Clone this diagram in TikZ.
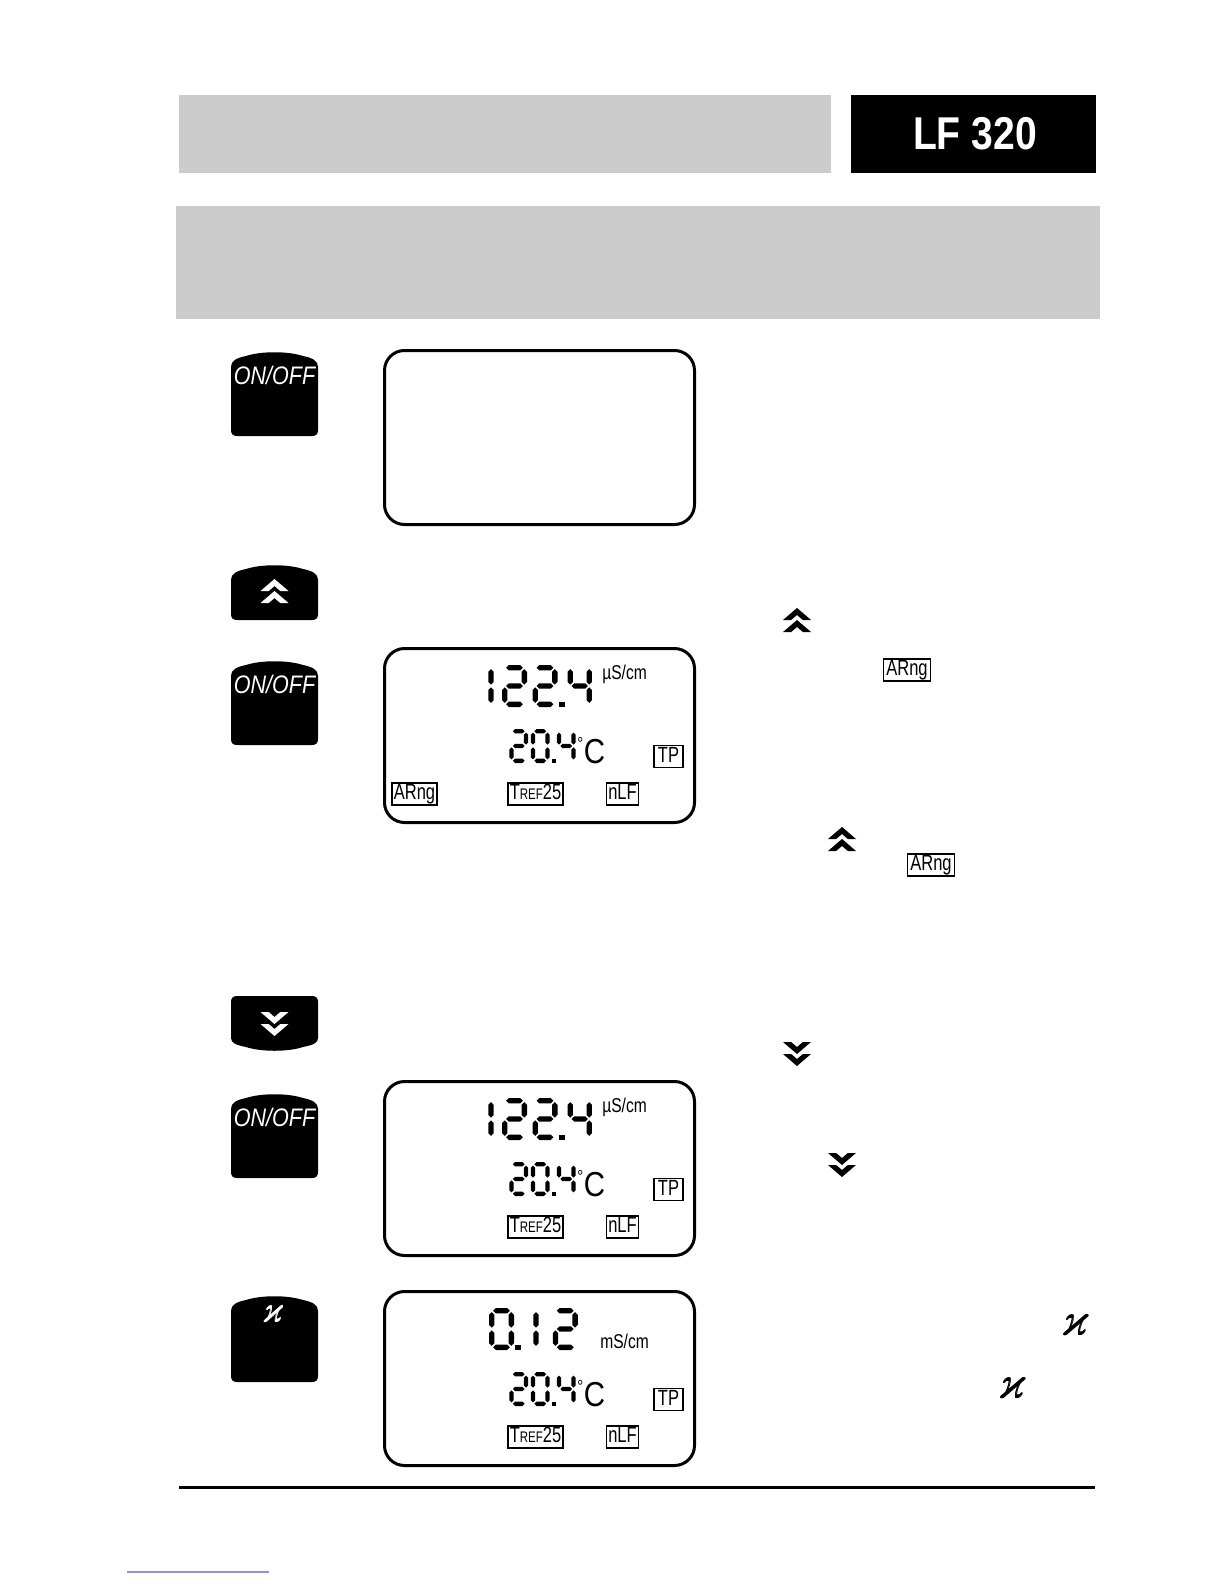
\documentclass[tikz,border=0pt]{standalone}
\usepackage{fontspec}
\usepackage{amssymb}
\usepackage{graphicx}
\newfontfamily\hdfont[FakeStretch=0.85]{Liberation Sans}
\newfontfamily\btnfont[FakeStretch=0.85]{Liberation Sans}
\newfontfamily\lcdfont[FakeStretch=0.75]{Liberation Sans}
\newfontfamily\unitfont[FakeStretch=0.78]{Liberation Sans}
\newfontfamily\degfont[FakeStretch=0.85]{Liberation Sans}
\newcommand\fsz[1]{\fontsize{#1}{#1}\selectfont}
\definecolor{hdgrey}{HTML}{CCCCCC}
\definecolor{linkblue}{HTML}{8C8CFF}
\tikzset{
  lcdframe/.style={draw, line width=2.25pt, rounded corners=15pt, minimum width=232.5pt, minimum height=130.5pt, anchor=north west, inner sep=0pt},
  segfill/.style={fill=black},
  lbl/.style={draw, line width=1.1pt, font=\lcdfont\fsz{16.5pt}, inner xsep=1.2pt, inner ysep=0.6pt, text height=11.9pt, text depth=3.2pt},
  unit/.style={font=\unitfont\fsz{15pt}, inner sep=0pt, anchor=base west},
  degc/.style={font=\degfont\fsz{26pt}, inner sep=0pt, anchor=base west},
  btnlabel/.style={text=white, font=\btnfont\itshape\fsz{19pt}, inner sep=0pt},
  keyfill/.style={fill=black},
}
% hexagonal LCD segments (uses \sh = half thickness)
\newcommand\hseg[3]{\fill[segfill] (#1,#3) -- (#1+\sh,#3-\sh) -- (#2-\sh,#3-\sh) -- (#2,#3) -- (#2-\sh,#3+\sh) -- (#1+\sh,#3+\sh) -- cycle;}
\newcommand\vseg[3]{\fill[segfill] (#3,#1) -- (#3+\sh,#1+\sh) -- (#3+\sh,#2-\sh) -- (#3,#2) -- (#3-\sh,#2-\sh) -- (#3-\sh,#1+\sh) -- cycle;}
% seven-segment digit: x, y (top centreline), w, h, half thickness, segments
\newcommand\sdig[6]{\def\dx{#1}\def\dy{#2}\def\dw{#3}\def\dh{#4}\def\sh{#5}#6}
\def\sgap{1.4}
\newcommand\sA{\hseg{\dx+\sgap}{\dx+\dw-\sgap}{\dy}}
\newcommand\sD{\hseg{\dx+\sgap}{\dx+\dw-\sgap}{\dy+\dh}}
\newcommand\sG{\hseg{\dx+\sgap}{\dx+\dw-\sgap}{\dy+\dh/2}}
\newcommand\sB{\vseg{\dy+\sgap}{\dy+\dh/2-\sgap}{\dx+\dw}}
\newcommand\sC{\vseg{\dy+\dh/2+\sgap}{\dy+\dh-\sgap}{\dx+\dw}}
\newcommand\sE{\vseg{\dy+\dh/2+\sgap}{\dy+\dh-\sgap}{\dx}}
\newcommand\sF{\vseg{\dy+\sgap}{\dy+\dh/2-\sgap}{\dx}}
% tall key (top arched): x0, ytop, ybottom
\newcommand\tallkey[3]{\fill[keyfill] (#1,#3-6) -- (#1,#2+15) .. controls (#1,#2+9) and (#1+5,#2+6) .. (#1+15,#2+4) .. controls (#1+30,#2-1) and (#1+57,#2-1) .. (#1+72,#2+4) .. controls (#1+82,#2+6) and (#1+87,#2+9) .. (#1+87,#2+15) -- (#1+87,#3-6) .. controls (#1+87,#3-2) and (#1+85,#3) .. (#1+81,#3) -- (#1+6,#3) .. controls (#1+2,#3) and (#1,#3-2) .. (#1,#3-6) -- cycle;}
% down key (bottom arched)
\newcommand\downkey[3]{\fill[keyfill] (#1,#2+6) .. controls (#1,#2+2) and (#1+2,#2) .. (#1+6,#2) -- (#1+81,#2) .. controls (#1+85,#2) and (#1+87,#2+2) .. (#1+87,#2+6) -- (#1+87,#3-13) .. controls (#1+87,#3-8) and (#1+82,#3-6) .. (#1+72,#3-4) .. controls (#1+57,#3+1) and (#1+30,#3+1) .. (#1+15,#3-4) .. controls (#1+5,#3-6) and (#1,#3-8) .. (#1,#3-13) -- cycle;}
% chevrons: cx, ytop, colour
\newcommand\chevone[3]{\fill[#3] (#1-14,#2+12) -- (#1,#2) -- (#1+14,#2+12) -- (#1+5.83,#2+12) -- (#1,#2+7) -- (#1-5.83,#2+12) -- cycle;}
\newcommand\chevup[3]{\chevone{#1}{#2}{#3}\chevone{#1}{#2+12}{#3}}
\newcommand\chevdn[3]{\fill[#3] (#1-14,#2) -- (#1,#2+12) -- (#1+14,#2) -- (#1+5.83,#2) -- (#1,#2+5) -- (#1-5.83,#2) -- cycle;
  \fill[#3] (#1-14,#2+12) -- (#1,#2+24) -- (#1+14,#2+12) -- (#1+5.83,#2+12) -- (#1,#2+17) -- (#1-5.83,#2+12) -- cycle;}
% emboldened kappa
\newcommand\bk[2]{\rlap{\scalebox{#1}[#2]{$\varkappa$}}\kern0.5pt\rlap{\scalebox{#1}[#2]{$\varkappa$}}\kern-0.25pt\raisebox{0.4pt}{\scalebox{#1}[#2]{$\varkappa$}}}
% common lower part of a display: T = top of frame, prefix
\newcommand\tempblock[2]{%
  \sdig{511.5}{#1+84.2}{14.5}{29.6}{2.2}{\sA\sB\sG\sE\sD}%
  \sdig{533}{#1+84.2}{14.5}{29.6}{2.2}{\sA\sB\sC\sD\sE\sF}%
  \fill (551.5,#1+111.5) rectangle (555.5,#1+116);
  \sdig{559}{#1+84.2}{14.5}{29.6}{2.2}{\sF\sG\sB\sC}%
  \node[degc] (#2deg) at (577,#1+116) {{\fsz{13pt}\raisebox{10pt}{°}}\kern0.5ptC};
  \node[lbl, minimum width=22pt] (#2tp) at (668.5,#1+109.5) {TP};
  \node[lbl, minimum width=41pt] (#2tref) at (535.5,#1+147) {T{\fsz{11.5pt}REF}25};
  \node[lbl, minimum width=23pt] (#2nlf) at (622.5,#1+147) {nLF};
}
\newcommand\cond[1]{%
  \sdig{469}{#1+20.7}{22}{36.6}{2.7}{\sB\sC}%
  \sdig{504.7}{#1+20.7}{19.6}{36.6}{2.7}{\sA\sB\sG\sE\sD}%
  \sdig{535.2}{#1+20.7}{19.6}{36.6}{2.7}{\sA\sB\sG\sE\sD}%
  \fill (559,#1+55) rectangle (564.5,#1+60.3);
  \sdig{570.2}{#1+20.7}{19}{36.6}{2.7}{\sF\sG\sB\sC}%
}
\begin{document}
\begin{tikzpicture}[x=0.75pt,y=-0.75pt]
\fill[white] (0,0) rectangle (1224,1584);
\useasboundingbox (0,0) rectangle (1224,1584);

% header
\fill[hdgrey] (179,95) rectangle (831,173);
\fill[black] (851,95) rectangle (1096,173);
\node[text=white, font=\hdfont\bfseries\fsz{34.5pt}, inner sep=0pt] (model) at (975,134) {LF 320};
\fill[hdgrey] (176,206) rectangle (1100,319);

% step 1
\tallkey{231}{352}{436}
\node[btnlabel] (onoffA) at (274.5,375) {ON/OFF};
\node[lcdframe] (lcdA) at (383,349) {};

% step 2
\tallkey{231}{565}{620}
\chevup{274.5}{579}{white}
\tallkey{231}{661}{745}
\node[btnlabel] (onoffB) at (274.5,684) {ON/OFF};
\node[lcdframe] (lcdB) at (383,647) {};
\cond{647}
\node[unit] (unitB) at (602,679) {µS/cm};
\tempblock{647}{b}
\node[lbl, minimum width=33.75pt] (arngB) at (414.5,794) {ARng};

\chevup{797}{608}{black}
\node[lbl, minimum width=35pt] (arngR1) at (907,670) {ARng};
\chevup{842}{827}{black}
\node[lbl, minimum width=35pt] (arngR2) at (931,865) {ARng};

% step 3
\downkey{231}{996}{1051}
\chevdn{274.5}{1012}{white}
\tallkey{231}{1094}{1178}
\node[btnlabel] (onoffC) at (274.5,1117) {ON/OFF};
\node[lcdframe] (lcdC) at (383,1080) {};
\cond{1080}
\node[unit] (unitC) at (602,1112) {µS/cm};
\tempblock{1080}{c}

\chevdn{797}{1042}{black}
\chevdn{842}{1153}{black}

% step 4
\tallkey{231}{1296}{1382}
\node[text=white, inner sep=0pt] (kapKey) at (273,1314) {\bk{2.1}{2.8}};
\node[lcdframe] (lcdD) at (383,1290) {};
\sdig{491.7}{1310.7}{19.6}{36.6}{2.7}{\sA\sB\sC\sD\sE\sF}
\fill (515,1345) rectangle (520.5,1350.3);
\sdig{514}{1310.7}{22}{36.6}{2.7}{\sB\sC}
\sdig{555.5}{1310.7}{19.6}{36.6}{2.7}{\sA\sB\sG\sE\sD}
\node[unit] (unitD) at (600,1348) {mS/cm};
\tempblock{1290}{d}

\node[inner sep=0pt] (kapR1) at (1075,1325) {\bk{2.8}{3.6}};
\node[inner sep=0pt] (kapR2) at (1012,1388) {\bk{2.8}{3.6}};

% footer
\draw[line width=2.25pt] (179,1487) -- (1095,1487);
\draw[linkblue, line width=0.8pt] (127,1572) -- (269,1572);
\end{tikzpicture}
\end{document}
